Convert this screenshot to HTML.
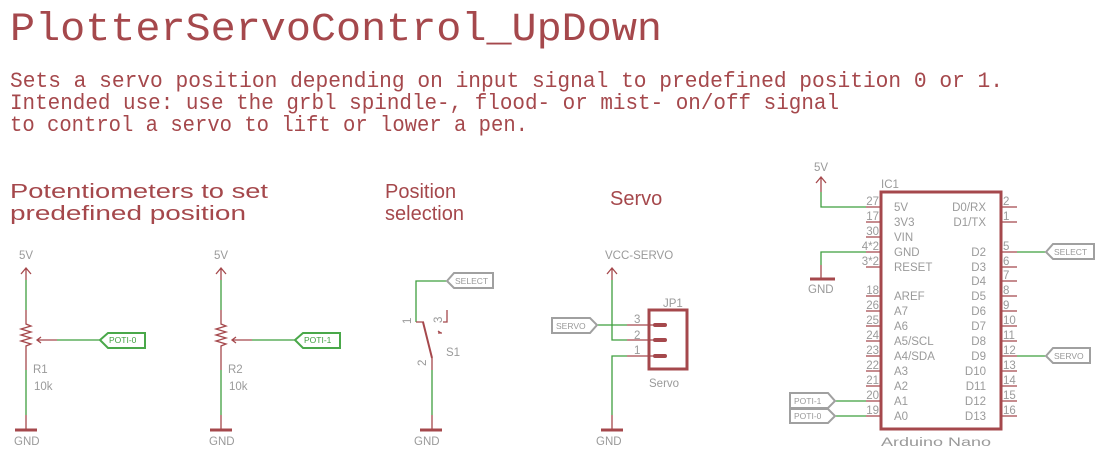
<!DOCTYPE html>
<html><head><meta charset="utf-8"><style>
html,body{margin:0;padding:0;background:#fff;}
svg{display:block;}
.t{font-family:"Liberation Mono",monospace;fill:#a5484c;}
.g{font-family:"Liberation Sans",sans-serif;fill:#9a9a9a;font-size:11.5px;}
.r{stroke:#a5484c;stroke-width:1.3;fill:none;}
.rb{stroke:#a5484c;stroke-width:3;fill:none;}
.gn{stroke:#3f9f3f;stroke-width:1.3;fill:none;}
.lbl{fill:#fff;stroke-width:2;}
.lg{stroke:#4aa84a;}
.lgr{stroke:#a0a0a0;}
.lt{font-family:"Liberation Sans",sans-serif;font-size:8.5px;}
</style></head><body>
<svg width="1096" height="451" viewBox="0 0 1096 451" xmlns="http://www.w3.org/2000/svg">
<text class="t" x="10" y="40" font-size="40" textLength="652" lengthAdjust="spacingAndGlyphs">PlotterServoControl_UpDown</text>
<text class="t" x="10" y="87" font-size="22" textLength="993" lengthAdjust="spacingAndGlyphs">Sets a servo position depending on input signal to predefined position 0 or 1.</text>
<text class="t" x="10" y="109" font-size="22" textLength="829" lengthAdjust="spacingAndGlyphs">Intended use: use the grbl spindle-, flood- or mist- on/off signal</text>
<text class="t" x="10" y="131" font-size="22" textLength="518" lengthAdjust="spacingAndGlyphs">to control a servo to lift or lower a pen.</text>
<g font-family="Liberation Sans,sans-serif" font-size="20" fill="#a5484c">
<text x="10" y="198" textLength="258" lengthAdjust="spacingAndGlyphs">Potentiometers to set</text>
<text x="10" y="220" textLength="236" lengthAdjust="spacingAndGlyphs">predefined position</text>
<text x="385" y="198">Position</text>
<text x="385" y="220">selection</text>
<text x="610" y="205">Servo</text>
</g>

<g id="pot">
<text class="g" x="19" y="259">5V</text>
<path class="r" d="M26 268V280M21 274L26 268L31 274"/>
<path class="gn" d="M26 280V310"/>
<path class="r" d="M26 310V324 L31 326 L21 329 L31 332 L21 335 L31 338 L21 341 L31 344 L26 346 V370"/>
<path class="gn" d="M26 370V415"/>
<path class="r" d="M26 415V430"/>
<path class="rb" d="M15 430H37"/>
<text class="g" x="14" y="445">GND</text>
<path class="r" d="M37 340H57M41 337L37 340L41 343"/>
<path class="gn" d="M57 340H100"/>
<text class="g" x="33" y="373">R1</text>
<text class="g" x="34" y="390">10k</text>
</g>
<path class="lbl lg" d="M100 340L108 333H145V348H108Z"/>
<text class="lt" x="109" y="343" fill="#3f9f3f">POTI-0</text>
<g transform="translate(195,0)">
<text class="g" x="19" y="259">5V</text>
<path class="r" d="M26 268V280M21 274L26 268L31 274"/>
<path class="gn" d="M26 280V310"/>
<path class="r" d="M26 310V324 L31 326 L21 329 L31 332 L21 335 L31 338 L21 341 L31 344 L26 346 V370"/>
<path class="gn" d="M26 370V415"/>
<path class="r" d="M26 415V430"/>
<path class="rb" d="M15 430H37"/>
<text class="g" x="14" y="445">GND</text>
<path class="r" d="M37 340H57M41 337L37 340L41 343"/>
<path class="gn" d="M57 340H100"/>
<text class="g" x="33" y="373">R2</text>
<text class="g" x="34" y="390">10k</text>
<path class="lbl lg" d="M100 340L108 333H145V348H108Z"/>
<text class="lt" x="109" y="343" fill="#3f9f3f">POTI-1</text>
</g>

<path class="gn" d="M416 322V281H447"/>
<path class="lbl lgr" d="M447 281L454 273H493V288H454Z"/>
<text class="lt" x="455" y="284" fill="#999">SELECT</text>
<path class="r" d="M416 322H424M447 310V322H443M438 331L441 333M438 333H442"/>
<path class="rb" d="M423 322L432 358" style="stroke-width:2"/>
<path class="r" d="M432 358V370"/>
<path class="gn" d="M432 370V415"/>
<path class="r" d="M432 415V430"/>
<path class="rb" d="M420 430H442"/>
<text class="g" x="414" y="445">GND</text>
<text class="g" transform="translate(411,324) rotate(-90)">1</text>
<text class="g" transform="translate(442,323) rotate(-90)">3</text>
<text class="g" transform="translate(426,366) rotate(-90)">2</text>
<text class="g" x="446" y="356" font-size="13">S1</text>

<text class="g" x="605" y="259">VCC-SERVO</text>
<path class="r" d="M612 268V280M607 274L612 268L617 274"/>
<path class="gn" d="M612 280V340H627M597 325H627M627 356H612V415"/>
<path class="r" d="M627 325H656M627 340H656M627 356H656M612 415V430"/>
<path class="rb" d="M601 430H623"/>
<text class="g" x="596" y="445">GND</text>
<path class="lbl lgr" d="M552 318H590L597 325L590 333H552Z"/>
<text class="lt" x="556" y="329" fill="#999">SERVO</text>
<rect x="649" y="310" width="38" height="59" fill="none" stroke="#a5484c" stroke-width="3"/>
<path d="M655 325H665M655 340H665M655 356H665" stroke="#a5484c" stroke-width="4" stroke-linecap="round"/>
<text class="g" x="634" y="323" font-size="12">3</text>
<text class="g" x="634" y="339" font-size="12">2</text>
<text class="g" x="634" y="354" font-size="12">1</text>
<text class="g" x="663" y="307" font-size="13">JP1</text>
<text class="g" x="649" y="387" font-size="13">Servo</text>

<text class="g" x="814" y="171">5V</text>
<path class="r" d="M821 177V192M816 183L821 177L826 183"/>
<path class="gn" d="M821 192V207H866M866 252H821V265"/>
<path class="r" d="M821 265V278"/>
<path class="rb" d="M810 279H835"/>
<text class="g" x="808" y="293">GND</text>
<rect x="881" y="192" width="120" height="237" fill="none" stroke="#a5484c" stroke-width="3"/>
<text class="g" x="881" y="188" font-size="13">IC1</text>
<text class="g" x="881" y="446" font-size="13" textLength="110" lengthAdjust="spacingAndGlyphs">Arduino Nano</text>
<g class="r">
<path d="M866 207H881M866 222H881M866 237H881M866 252H881M866 267H881M866 296H881M866 311H881M866 326H881M866 341H881M866 356H881M866 371H881M866 386H881M866 401H881M866 416H881"/>
<path d="M1001 207H1017M1001 222H1017M1001 252H1017M1001 267H1017M1001 281H1017M1001 296H1017M1001 311H1017M1001 326H1017M1001 341H1017M1001 356H1017M1001 371H1017M1001 386H1017M1001 401H1017M1001 416H1017"/>
</g>
<g class="g" text-anchor="end">
<text x="879" y="205">27</text><text x="879" y="220">17</text><text x="879" y="235">30</text><text x="879" y="250">4*2</text><text x="879" y="265">3*2</text>
<text x="879" y="294">18</text><text x="879" y="309">26</text><text x="879" y="324">25</text><text x="879" y="339">24</text><text x="879" y="354">23</text><text x="879" y="369">22</text><text x="879" y="384">21</text><text x="879" y="399">20</text><text x="879" y="414">19</text>
<text x="986" y="211">D0/RX</text><text x="986" y="226">D1/TX</text><text x="986" y="256">D2</text><text x="986" y="271">D3</text><text x="986" y="285">D4</text><text x="986" y="300">D5</text><text x="986" y="315">D6</text><text x="986" y="330">D7</text><text x="986" y="345">D8</text><text x="986" y="360">D9</text><text x="986" y="375">D10</text><text x="986" y="390">D11</text><text x="986" y="405">D12</text><text x="986" y="420">D13</text>
</g>
<g class="g">
<text x="894" y="211">5V</text><text x="894" y="226">3V3</text><text x="894" y="241">VIN</text><text x="894" y="256">GND</text><text x="894" y="271">RESET</text>
<text x="894" y="300">AREF</text><text x="894" y="315">A7</text><text x="894" y="330">A6</text><text x="894" y="345">A5/SCL</text><text x="894" y="360">A4/SDA</text><text x="894" y="375">A3</text><text x="894" y="390">A2</text><text x="894" y="405">A1</text><text x="894" y="420">A0</text>
<text x="1003" y="205">2</text><text x="1003" y="220">1</text><text x="1003" y="250">5</text><text x="1003" y="265">6</text><text x="1003" y="279">7</text><text x="1003" y="294">8</text><text x="1003" y="309">9</text><text x="1003" y="324">10</text><text x="1003" y="339">11</text><text x="1003" y="354">12</text><text x="1003" y="369">13</text><text x="1003" y="384">14</text><text x="1003" y="399">15</text><text x="1003" y="414">16</text>
</g>
<path class="gn" d="M1017 252H1046M1017 356H1046M835 401H866M835 416H866"/>
<path class="lbl lgr" d="M1046 252L1053 244H1094V259H1053Z"/>
<text class="lt" x="1054" y="255" fill="#999">SELECT</text>
<path class="lbl lgr" d="M1046 356L1053 348H1090V363H1053Z"/>
<text class="lt" x="1054" y="359" fill="#999">SERVO</text>
<path class="lbl lgr" d="M790 393H828L835 401L828 408H790Z"/>
<text class="lt" x="794" y="404" fill="#999">POTI-1</text>
<path class="lbl lgr" d="M790 409H828L835 416L828 423H790Z"/>
<text class="lt" x="794" y="419" fill="#999">POTI-0</text>
</svg>
</body></html>
